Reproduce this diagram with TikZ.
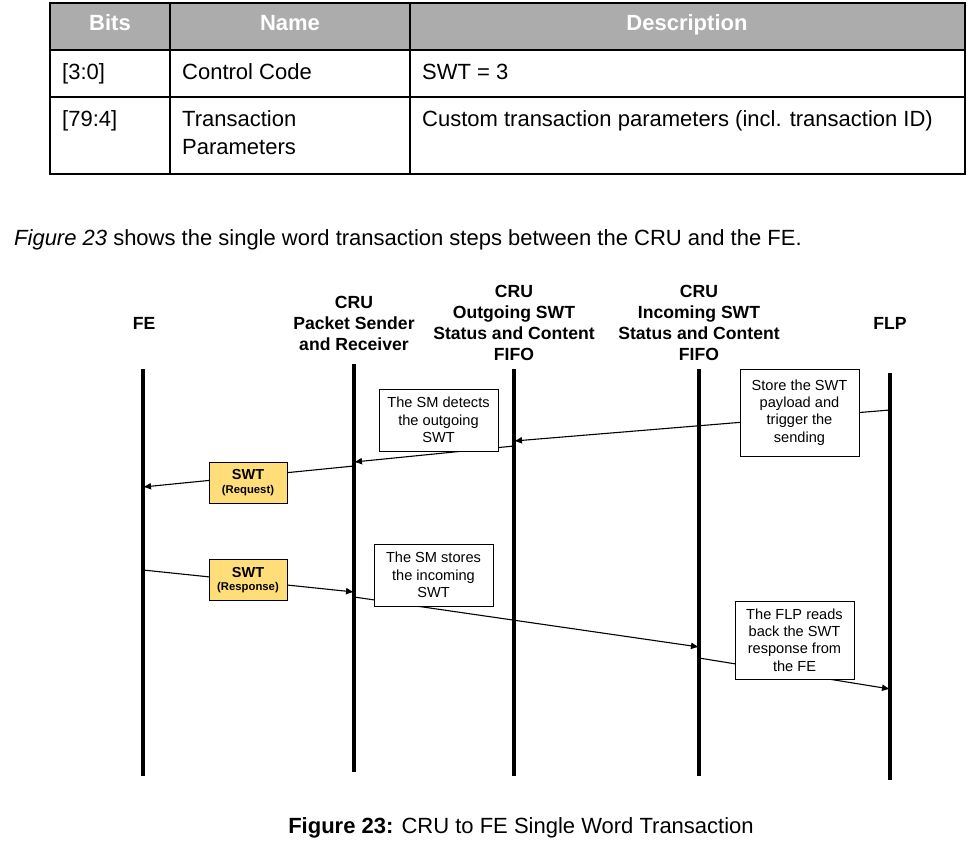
\documentclass[tikz,border=0pt]{standalone}
\usepackage{fontspec}
\setmainfont{Liberation Sans}
\usetikzlibrary{arrows.meta}
\definecolor{headgray}{RGB}{172,172,172}
\definecolor{msgyellow}{RGB}{255,222,122}
\begin{document}
\begin{tikzpicture}[x=1pt,y=-1pt,
  tabtext/.style={anchor=base west,inner sep=0pt,font=\fontsize{22}{26}\selectfont},
  tabhead/.style={anchor=base,inner sep=0pt,text=white,font=\fontsize{22}{26}\selectfont\bfseries},
  actor/.style={align=center,inner sep=0pt,font=\fontsize{17.6}{21}\selectfont\bfseries},
  lifeline/.style={line width=3.2pt},
  msg/.style={line width=1.1pt,-{Latex[length=8pt,width=7pt]}},
  notebox/.style={draw,fill=white,line width=0.9pt,align=center,inner sep=0pt,
    font=\fontsize{14.6}{17.4}\selectfont},
  swtbox/.style={draw,fill=msgyellow,line width=1pt,align=center,inner sep=0pt,
    minimum width=78pt,minimum height=41pt}]
\useasboundingbox (0,0) rectangle (978,843);

% ---- bit field table ----
\fill[headgray] (50,3) rectangle (965,50);
\draw[line width=1.3pt] (50,3) rectangle (965,174);
\draw[line width=1.3pt] (50,50) -- (965,50) (50,97) -- (965,97)
  (170,3) -- (170,174) (410,3) -- (410,174);
\node[tabhead] (hbits) at (110,31) {Bits};
\node[tabhead] (hname) at (290,31) {Name};
\node[tabhead] (hdesc) at (687,31) {Description};
\node[tabtext] (r1a) at (62,80) {[3:0]};
\node[tabtext] (r1b) at (182,80) {Control Code};
\node[tabtext] (r1c) at (422,80) {SWT = 3};
\node[tabtext] (r2a) at (62,127) {[79:4]};
\node[tabtext] (r2b) at (182,127) {Transaction};
\node[tabtext] (r2b2) at (182,154) {Parameters};
\node[tabtext] (r2c) at (422,127) {Custom transaction parameters (incl. transaction ID)};

% ---- introductory sentence ----
\node[tabtext] (intro) at (14,245) {\itshape Figure 23\upshape{} shows the single word transaction steps between the CRU and the FE.};

% ---- participants ----
\node[actor] (fe)  at (144,323) {FE};
\node[actor] (psr) at (354,323) {CRU\\Packet Sender\\and Receiver};
\node[actor] (out) at (514,323) {CRU\\Outgoing SWT\\Status and Content\\FIFO};
\node[actor] (inc) at (699,323) {CRU\\Incoming SWT\\Status and Content\\FIFO};
\node[actor] (flp) at (890,323) {FLP};

% ---- lifelines ----
\coordinate (feT) at (143,369);  \coordinate (feB) at (143,776);
\coordinate (psrT) at (354,364); \coordinate (psrB) at (354,772);
\coordinate (outT) at (514,369); \coordinate (outB) at (514,776);
\coordinate (incT) at (699,369); \coordinate (incB) at (699,776);
\coordinate (flpT) at (890,373); \coordinate (flpB) at (890,780);
\foreach \a in {fe,psr,out,inc,flp} \draw[lifeline] (\a T) -- (\a B);

% ---- message end points on the lifelines ----
\coordinate (m1a) at (890,410); \coordinate (m1b) at (514,441);
\coordinate (m2a) at (514,446); \coordinate (m2b) at (354,462);
\coordinate (m3a) at (354,466); \coordinate (m3b) at (143,487);
\coordinate (m4a) at (143,570); \coordinate (m4b) at (354,592);
\coordinate (m5a) at (354,597); \coordinate (m5b) at (699,647);
\coordinate (m6a) at (699,658); \coordinate (m6b) at (890,689);

\draw[msg] (m1a) -- (m1b);
\draw[msg] (m2a) -- (m2b);
\draw[msg] (m3a) -- (m3b);
\draw[msg] (m4a) -- (m4b);
\draw[msg] (m5a) -- (m5b);
\draw[msg] (m6a) -- (m6b);

% ---- annotations laid over the messages ----
\node[notebox,minimum width=119pt,minimum height=87pt] (n1) at (799.5,412.5)
  {Store the SWT\\payload and\\trigger the\\sending};
\node[notebox,minimum width=119pt,minimum height=62pt] (n2) at (438.5,420)
  {The SM detects\\the outgoing\\SWT};
\node[swtbox] (req) at (248,482.5)
  {\fontsize{14.5}{16}\selectfont\bfseries SWT\\[1.5pt]\fontsize{11.3}{13}\selectfont\bfseries (Request)};
\node[swtbox] (resp) at (248,580)
  {\fontsize{14.5}{16}\selectfont\bfseries SWT\\[1.5pt]\fontsize{11.3}{13}\selectfont\bfseries (Response)};
\node[notebox,minimum width=119pt,minimum height=62pt] (n5) at (433.5,575)
  {The SM stores\\the incoming\\SWT};
\node[notebox,minimum width=119pt,minimum height=78pt] (n6) at (794.5,640)
  {The FLP reads\\back the SWT\\response from\\the FE};

% ---- caption ----
\node[anchor=base,inner sep=0pt,font=\fontsize{22}{26}\selectfont] (cap) at (521,833)
  {\textbf{Figure 23:} CRU to FE Single Word Transaction};
\end{tikzpicture}
\end{document}
